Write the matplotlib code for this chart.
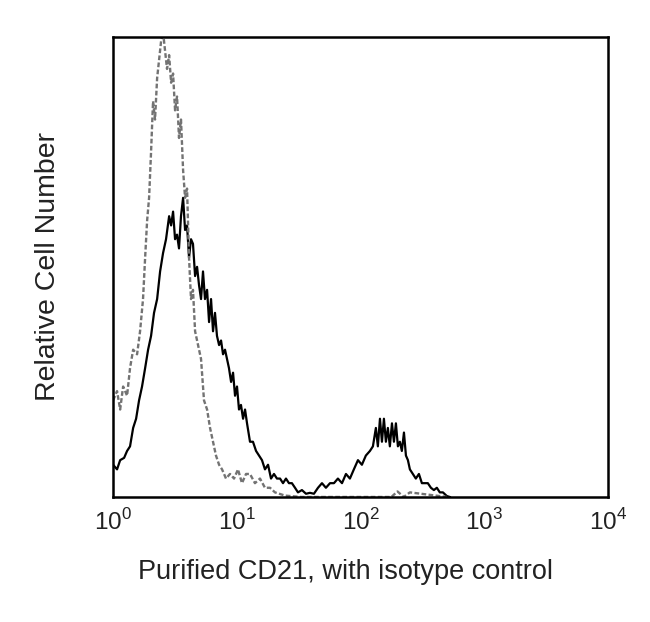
import matplotlib
matplotlib.use('Agg')
import matplotlib.pyplot as plt
import numpy as np

plt.rcParams['font.family'] = ['Liberation Sans', 'DejaVu Sans']
plt.rcParams['mathtext.fontset'] = 'custom'
plt.rcParams['mathtext.rm'] = 'Liberation Sans'

# isotype control (grey dotted) - log10 fluorescence, relative count
iso_log = [0.000, 0.032, 0.057, 0.081, 0.113, 0.137, 0.162, 0.194, 0.218, 0.242,
           0.259, 0.275, 0.291, 0.307, 0.323, 0.339, 0.356, 0.372, 0.388, 0.404,
           0.420, 0.436, 0.453, 0.469, 0.485, 0.501, 0.517, 0.533, 0.549, 0.566,
           0.582, 0.598, 0.614, 0.630, 0.646, 0.663, 0.687, 0.711, 0.735, 0.760,
           0.784, 0.808, 0.832, 0.857, 0.881, 0.913, 0.945, 0.978, 1.010, 1.042,
           1.075, 1.107, 1.147, 1.188, 1.228, 1.269, 1.309, 1.390, 1.520, 2.250,
           2.300, 2.350, 2.400, 2.700]
iso_cnt = [21, 23, 19, 24, 22, 28, 32, 31, 36, 43,
           52, 60, 65, 75, 86, 82, 91, 95, 99, 101,
           97, 93, 96, 90, 92, 84, 87, 78, 82, 71,
           65, 67, 52, 43, 45, 36, 33, 30, 21, 19,
           15, 12, 9, 7, 6, 4, 5, 4, 6, 3,
           5, 5, 3, 4, 2, 2, 1, 0.3, 0, 0,
           1.2, 0, 1, 0]

# purified CD21 (black solid)
cd21_log = [0.000, 0.032, 0.057, 0.089, 0.113, 0.137, 0.162, 0.186, 0.210, 0.234,
            0.259, 0.283, 0.307, 0.331, 0.356, 0.380, 0.404, 0.428, 0.453, 0.469,
            0.485, 0.501, 0.517, 0.533, 0.549, 0.566, 0.582, 0.598, 0.614, 0.630,
            0.646, 0.663, 0.679, 0.695, 0.711, 0.727, 0.743, 0.760, 0.776, 0.792,
            0.808, 0.824, 0.840, 0.857, 0.873, 0.889, 0.905, 0.921, 0.937, 0.954,
            0.970, 0.986, 1.002, 1.018, 1.034, 1.051, 1.067, 1.083, 1.107, 1.131,
            1.156, 1.180, 1.204, 1.228, 1.253, 1.277, 1.301, 1.325, 1.350, 1.374,
            1.398, 1.422, 1.446, 1.471, 1.495, 1.527, 1.560, 1.592, 1.624, 1.657,
            1.689, 1.721, 1.754, 1.786, 1.818, 1.851, 1.883, 1.915, 1.947, 1.980,
            2.012, 2.044, 2.077, 2.101, 2.125, 2.141, 2.158, 2.174, 2.190, 2.206,
            2.222, 2.238, 2.255, 2.271, 2.287, 2.303, 2.319, 2.335, 2.352, 2.368,
            2.384, 2.400, 2.424, 2.448, 2.473, 2.497, 2.521, 2.545, 2.570, 2.594,
            2.618, 2.642, 2.667, 2.699, 2.723]
cd21_cnt = [7, 6, 8, 8.5, 10, 11, 15, 17, 21, 24,
            28, 32, 35, 40, 43, 49, 53, 56, 61, 59,
            62, 56, 57, 54, 61, 65, 58, 59, 52, 56,
            55, 48, 50, 46, 43, 49, 43, 45, 38, 43,
            36, 40, 35, 33, 34, 31, 32, 30, 28, 25,
            27, 22, 24, 19, 20, 17, 19, 16, 12, 12,
            10, 9, 8, 6, 7, 4, 5, 4, 4, 3,
            4, 3, 3, 2, 1, 1.5, 0.7, 0.9, 0.7, 2,
            3, 2, 3, 3, 4, 3, 5, 4, 6, 8,
            7, 9, 10, 11, 15, 11, 17, 12, 17, 12,
            15, 11, 16, 12, 16, 11, 12, 10, 14, 9,
            8, 6, 5, 4, 5, 3, 3, 3, 2, 1.5,
            2, 1, 1, 0.2, 0]

xticks = [1, 10, 100, 1000, 10000]
xtick_labels = ['$10^0$', '$10^1$', '$10^2$', '$10^3$', '$10^4$']

fig = plt.figure(figsize=(6.5, 6.22), dpi=100)
ax = fig.add_axes([0.174, 0.201, 0.761, 0.740])

ax.plot(10 ** np.array(cd21_log), cd21_cnt, color='black', lw=1.6)
ax.plot(10 ** np.array(iso_log), iso_cnt, color='0.45', lw=1.7,
        linestyle=(0, (2, 1)))

ax.set_xscale('log')
ax.set_xlim(1, 10000)
ax.set_ylim(0, 100)
ax.set_xticks(xticks)
ax.set_xticklabels(xtick_labels, fontsize=17.5)
ax.minorticks_off()
ax.set_yticks([])
ax.tick_params(axis='x', length=0, pad=9, colors='#222222')
for s in ax.spines.values():
    s.set_linewidth(1.8)

ax.set_xlabel('Purified CD21, with isotype control', fontsize=19.5,
              color='#222222', va='center')
ax.xaxis.set_label_coords(0.469, -0.163)
ax.set_ylabel('Relative Cell Number', fontsize=20.5, color='#222222',
              va='center')
ax.yaxis.set_label_coords(-0.132, 0.5)

fig.savefig('out.png', dpi=100)
